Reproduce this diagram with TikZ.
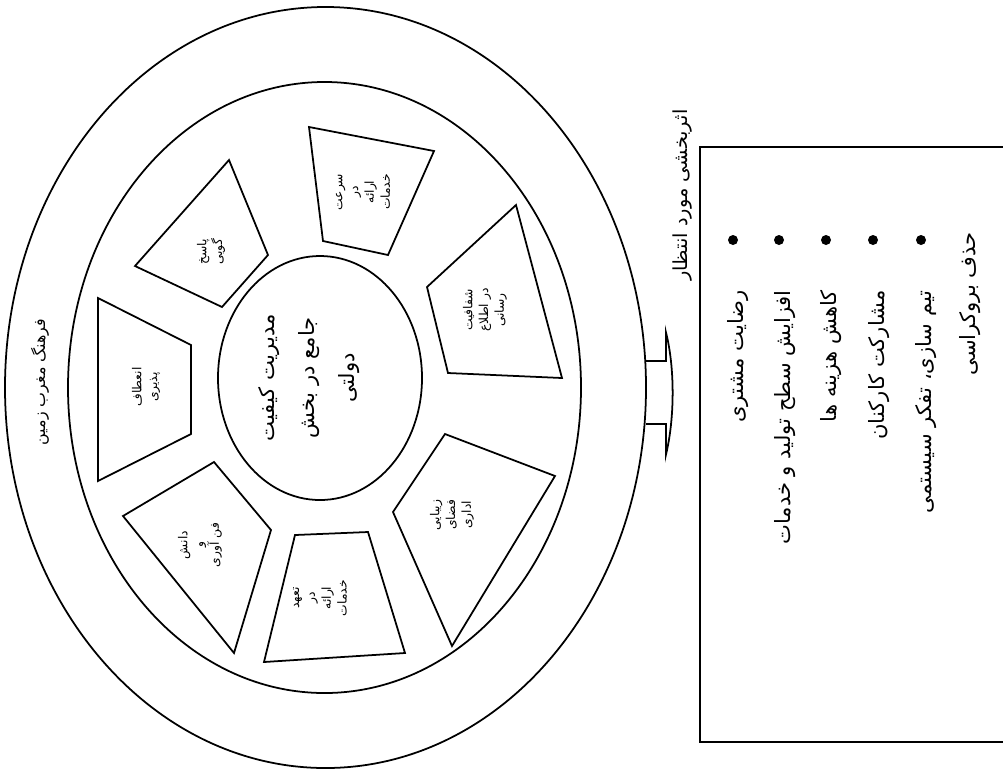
\documentclass[tikz,border=0pt]{standalone}
\usepackage{fontspec}
\usepackage{tikz}
\usetikzlibrary{shapes.geometric, positioning, calc}
\TeXXeTstate=1
\newfontfamily\farsifont[Script=Arabic]{DejaVu Sans}
\newcommand{\fa}[1]{{\farsifont\beginR #1\endR}}

\begin{document}
\begin{tikzpicture}[x=0.2mm, y=-0.2mm,
    ring/.style={ellipse, draw, line width=1pt, inner sep=0pt},
    panel/.style={draw, line width=1pt, line join=miter},
    paneltext/.style={rotate=90, align=center, inner sep=0pt, font=\fontsize{7}{9}\selectfont},
    itemtext/.style={rotate=90, anchor=east, inner sep=0pt, font=\fontsize{12}{14}\selectfont},
    dot/.style={circle, fill, inner sep=0pt, minimum size=2mm}]
  \useasboundingbox (0,0) rectangle (1003,771);

  % rings
  \node[ring, minimum width=128.2mm, minimum height=152.2mm] (outerRing) at (325.5,387.5) {};
  \node[ring, minimum width=102.6mm, minimum height=122.2mm] (midRing) at (324.5,387.5) {};
  \node[ring, minimum width=40.8mm, minimum height=48.8mm] (core) at (320,378) {};
  \node[rotate=90, align=center, inner sep=0pt, font=\fontsize{12}{23}\selectfont] (coreText) at (309,378)
    {\fa{مدیریت کیفیت}\\\fa{جامع در بخش}\\\fa{دولتی}};

  \node[rotate=90, inner sep=0pt, font=\fontsize{9}{11}\selectfont] (culture) at (40,382) {\fa{فرهنگ مغرب زمین}};

  % seven panels
  \draw[panel] (309,127) -- (434,151) -- (388,255) -- (323,241) -- cycle;
  \draw[panel] (229,160) -- (268,255) -- (222,307) -- (135,266) -- cycle;
  \draw[panel] (516,205) -- (562,378) -- (448,373) -- (427,287) -- cycle;
  \draw[panel] (98,298) -- (191,345) -- (191,434) -- (98,481) -- cycle;
  \draw[panel] (123,516) -- (214,462) -- (271,530) -- (234,653) -- cycle;
  \draw[panel] (295,535) -- (368,532) -- (405,653) -- (264,662) -- cycle;
  \draw[panel] (445,434) -- (555,476) -- (452,646) -- (393,512) -- cycle;

  \node[paneltext] (speed) at (363,192) {\fa{سرعت}\\\fa{در}\\\fa{ارائه}\\\fa{خدمات}};
  \node[paneltext] (answer) at (211,252) {\fa{پاسخ}\\\fa{گویی}};
  \node[paneltext] (clear) at (485,310) {\fa{شفافیت}\\\fa{در اطلاع}\\\fa{رسانی}};
  \node[paneltext] (flex) at (146,387) {\fa{انعطاف}\\\fa{پذیری}};
  \node[paneltext] (tech) at (200,545) {\fa{دانش}\\\fa{و}\\\fa{فن آوری}};
  \node[paneltext] (duty) at (320,598) {\fa{تعهد}\\\fa{در}\\\fa{ارائه}\\\fa{خدمات}};
  \node[paneltext] (beauty) at (452,515) {\fa{زیبایی}\\\fa{فضای}\\\fa{اداری}};

  % block arrow to the box
  \coordinate (arrowBase) at ($(outerRing.east)+(-1,0)$);
  \draw[line width=1pt, line join=miter]
    ($(arrowBase)+(0,-26.5)$) -- ++(20,0) -- ++(0,-29)
    .. controls ($(arrowBase)+(29,-20)$) and ($(arrowBase)+(29,30)$) .. ($(arrowBase)+(20,67.5)$)
    -- ++(0,-31) -- ++(-20,0);

  % outcome box
  \node[rotate=90, inner sep=0pt, font=\fontsize{11}{13}\selectfont] (outTitle) at (683,195) {\fa{اثربخشی مورد انتظار}};
  \draw[line width=1pt] (1003,147) -| (700,742) -- (1003,742);

  \node[dot] (b1) at (733,240) {};
  \node[dot] (b2) at (779,240) {};
  \node[dot] (b3) at (826,240) {};
  \node[dot] (b4) at (873,240) {};
  \node[dot] (b5) at (921,240) {};

  \node[itemtext] (it1) at (738,290) {\fa{رضایت مشتری}};
  \node[itemtext] (it2) at (785,290) {\fa{افزایش سطح تولید و خدمات}};
  \node[itemtext] (it3) at (831,290) {\fa{کاهش هزینه ها}};
  \node[itemtext] (it4) at (879,290) {\fa{مشارکت کارکنان}};
  \node[itemtext] (it5) at (926,290) {\fa{تیم سازی، تفکر سیستمی}};
  \node[itemtext] (it6) at (970,232) {\fa{حذف بروکراسی}};
\end{tikzpicture}
\end{document}
